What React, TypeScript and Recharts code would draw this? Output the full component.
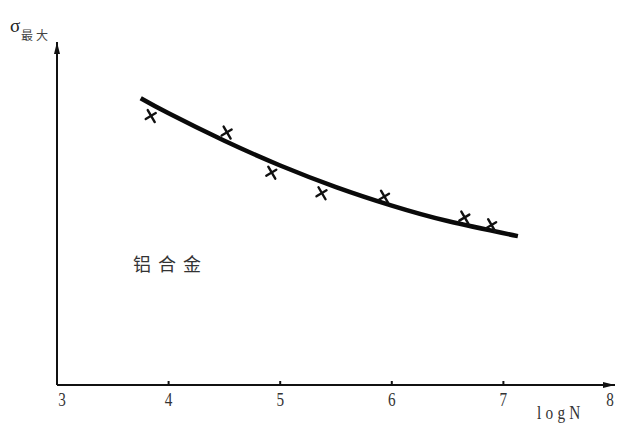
import React from 'react';
import { ComposedChart, XAxis, YAxis, Line, Scatter } from 'recharts';

// Fitted curve (logN, sigma in arbitrary units)
const curveLogN = [3.75, 4.0, 4.5, 5.0, 5.5, 6.0, 6.5, 7.13];
const curveSigma = [83.6, 79.2, 71.2, 64.0, 57.7, 52.3, 47.8, 43.4];

// Test points (x marks)
const pointLogN = [3.84, 4.52, 4.92, 5.37, 5.93, 6.65, 6.89];
const pointSigma = [78.4, 73.6, 61.9, 55.9, 54.9, 48.8, 46.6];

const xTicks = [3, 4, 5, 6, 7, 8];
const xTickLabels = ['3', '4', '5', '6', '7', '8'];

const curveData = curveLogN.map((x, i) => ({ x, y: curveSigma[i] }));
const pointData = pointLogN.map((x, i) => ({ x, y: pointSigma[i] }));

const XTick = (props: any) => {
  const { x, y, payload } = props;
  const v = payload.value;
  const label = xTickLabels[xTicks.indexOf(v)] ?? String(v);
  const dx = v === 3 ? 5 : v === 8 ? -5 : 0;
  const showMark = v > 3 && v < 8;
  return (
    <g>
      {showMark && <line x1={x} y1={y} x2={x} y2={y - 4} stroke="#111" strokeWidth={2} />}
      <text
        x={0}
        y={0}
        transform={`translate(${x + dx},${y + 21}) scale(0.8,1)`}
        textAnchor="middle"
        fontFamily="'Liberation Serif', serif"
        fontSize={19}
        fill="#333"
      >
        {label}
      </text>
    </g>
  );
};

const Cross = (props: any) => {
  const { cx, cy } = props;
  if (cx == null || cy == null) return null;
  return (
    <g stroke="#111" strokeWidth={2.4} strokeLinecap="round">
      <line x1={cx - 3} y1={cy - 6} x2={cx + 4} y2={cy + 6} />
      <line x1={cx - 5} y1={cy + 3} x2={cx + 5} y2={cy - 3} />
    </g>
  );
};

export default function App() {
  return (
    <div style={{ position: 'absolute', left: 0, top: 0, width: 631, height: 433, background: '#fff' }}>
      <ComposedChart width={631} height={433} margin={{ top: 42, right: 16, bottom: 18, left: 47 }}>
        <defs>
          <marker
            id="arrowHead"
            viewBox="0 0 12 6"
            refX={12}
            refY={3}
            markerWidth={12}
            markerHeight={6}
            markerUnits="userSpaceOnUse"
            orient="auto-start-reverse"
          >
            <path d="M0,0 L12,3 L0,6 Z" fill="#111" />
          </marker>
        </defs>
        <XAxis
          type="number"
          dataKey="x"
          domain={[3, 8]}
          ticks={xTicks}
          allowDataOverflow
          height={30}
          tickSize={0}
          tickMargin={0}
          tickLine={false}
          tick={<XTick />}
          axisLine={{ stroke: '#111', strokeWidth: 2, markerEnd: 'url(#arrowHead)' }}
        />
        <YAxis
          type="number"
          dataKey="y"
          domain={[0, 100]}
          allowDataOverflow
          width={10}
          tick={false}
          tickLine={false}
          axisLine={{ stroke: '#111', strokeWidth: 2, markerStart: 'url(#arrowHead)' }}
        />
        <Line
          data={curveData}
          dataKey="y"
          type="natural"
          stroke="#0a0a0a"
          strokeWidth={4.5}
          dot={false}
          activeDot={false}
          isAnimationActive={false}
        />
        <Scatter data={pointData} dataKey="y" shape={<Cross />} isAnimationActive={false} />
        <text x={10} y={32} fontFamily="'Liberation Serif', serif" fontSize={19} fill="#222">σ</text>
        <text x={21} y={40} fontFamily="'Noto Sans CJK SC', sans-serif" fontSize={12} letterSpacing={3} fill="#444">最大</text>
        <text x={133} y={271} fontFamily="'Noto Sans CJK SC', sans-serif" fontSize={18} letterSpacing={7} fill="#333">铝合金</text>
        <text
          x={0}
          y={0}
          transform="translate(537,419) scale(0.85,1)"
          fontFamily="'Liberation Serif', serif"
          fontSize={18}
          letterSpacing={5}
          fill="#333"
        >
          logN
        </text>
      </ComposedChart>
    </div>
  );
}
